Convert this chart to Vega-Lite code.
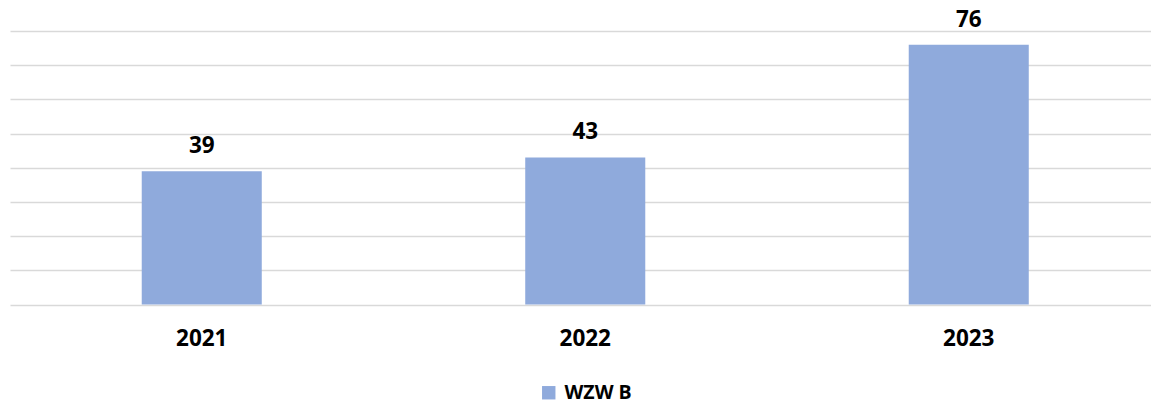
{
  "$schema": "https://vega.github.io/schema/vega-lite/v6.json",
  "width": 1150.5,
  "height": 273.5,
  "autosize": {"type": "none"},
  "padding": {"left": 10, "top": 31, "right": 0, "bottom": 98.5},
  "background": "white",
  "config": {"view": {"stroke": null}, "font": "Open Sans", "legend": {"layout": {"bottom": {"anchor": "middle"}}}},
  "data": {"values": [
    {"year": "2021", "value": 39, "series": "WZW B"},
    {"year": "2022", "value": 43, "series": "WZW B"},
    {"year": "2023", "value": 76, "series": "WZW B"}
  ]},
  "encoding": {
    "x": {"field": "year", "type": "nominal", "scale": {"paddingInner": 0.687, "paddingOuter": 0.3435},
      "axis": {"title": null, "domain": false, "ticks": false, "labelAngle": 0, "labelFont": "Open Sans", "labelFontWeight": "bold", "labelFontSize": 22.5, "labelColor": "#000000", "labelPadding": 23}},
    "y": {"field": "value", "type": "quantitative", "scale": {"domain": [0, 80]},
      "axis": {"title": null, "values": [0,10,20,30,40,50,60,70,80], "labels": false, "ticks": false, "domain": false, "grid": true, "gridColor": "#D9D9D9", "gridWidth": 1.5}}
  },
  "layer": [
    {"mark": {"type": "bar", "color": "#8FAADC"},
     "encoding": {"color": {"field": "series", "type": "nominal", "scale": {"domain": ["WZW B"], "range": ["#8FAADC"]},
       "legend": {"title": null, "orient": "bottom", "direction": "horizontal", "symbolType": "square", "symbolSize": 180, "symbolStrokeWidth": 0, "symbolOpacity": 1, "labelFont": "Open Sans", "labelFontWeight": "bold", "labelFontSize": 19.5, "labelColor": "#000000", "labelOffset": 6, "offset": 33}}}},
    {"mark": {"type": "text", "font": "Open Sans", "fontWeight": "bold", "fontSize": 22.5, "color": "#000000", "baseline": "alphabetic", "dy": -18},
     "encoding": {"text": {"field": "value", "type": "quantitative"}}}
  ]
}
